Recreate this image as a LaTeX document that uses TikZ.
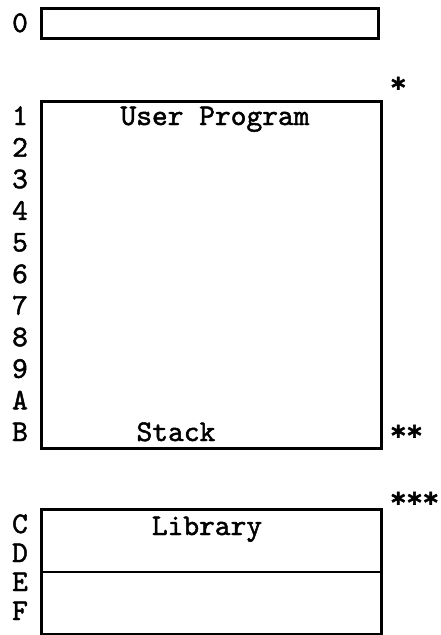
\documentclass[tikz,border=0pt]{standalone}
\usepackage{fontspec}
\newfontfamily\twfont{lmmono10-regular.otf}[RawFeature={embolden=1.6}]
\newfontfamily\starfont{DejaVu Sans Mono Bold}[RawFeature={embolden=2}]
\begin{document}
\begin{tikzpicture}[x=1pt,y=-1pt,
  memtxt/.style={font=\fontsize{30}{32}\selectfont\twfont, inner sep=0pt, anchor=base},
  rowlbl/.style={memtxt},
  starlbl/.style={font=\fontsize{27}{28}\selectfont\starfont, inner sep=0pt, anchor=base west},
  membox/.style={draw, line width=2.6pt, rectangle, inner sep=0pt, anchor=north west}]
\useasboundingbox (0,0) rectangle (441,635);
% boxes
\node[membox, minimum width=337pt, minimum height=30pt] (zero) at (40,7) {};
\node[membox, minimum width=340pt, minimum height=347pt] (user) at (40,100) {};
\node[membox, minimum width=340pt, minimum height=125pt] (lib) at (40,508) {};
\coordinate (divl) at (40,572);
\coordinate (divr) at (380,572);
\draw[line width=2.6pt] (divl) -- (divr);
% box texts
\node[memtxt] (tuser) at (215,125) {User Program};
\node[memtxt] (tstack) at (176,441) {Stack};
\node[memtxt] (tlib) at (207,535) {Library};
% row labels
\node[rowlbl] (l0) at (20,32) {0};
\foreach \t [count=\i from 0] in {1,2,3,4,5,6,7,8,9,A,B} {
  \node[rowlbl] (r\i) at (20,125+31.6*\i) {\t};
}
\node[rowlbl] (lc) at (20,533) {C};
\node[rowlbl] (ld) at (20,562) {D};
\node[rowlbl] (le) at (20,591) {E};
\node[rowlbl] (lf) at (20,620) {F};
% stars
\node[starlbl] (s1) at (390,97) {*};
\node[starlbl] (s2) at (390,445) {**};
\node[starlbl] (s3) at (390,512) {***};
\end{tikzpicture}
\end{document}
